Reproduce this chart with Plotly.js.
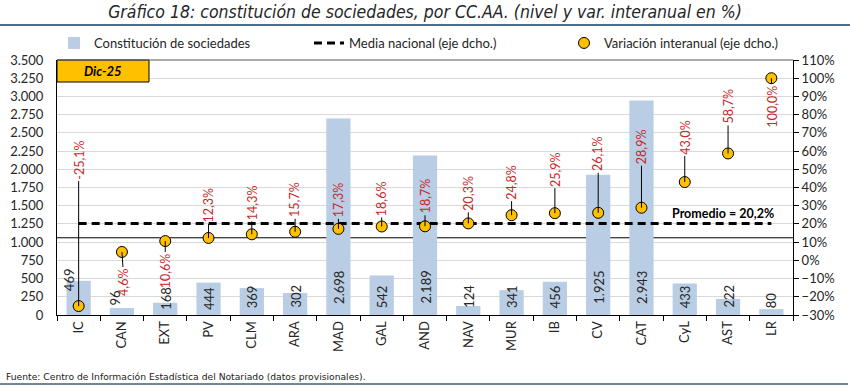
<!DOCTYPE html>
<html>
<head>
<meta charset="utf-8">
<script src="https://cdn.plot.ly/plotly-3.0.1.min.js"></script>
<style>
  html, body { margin: 0; padding: 0; background: #fff; }
  #chart { width: 850px; height: 388px; }
</style>
</head>
<body>
<div id="chart"></div>
<script>
// ---- Data ----
const categorias = ['IC','CAN','EXT','PV','CLM','ARA','MAD','GAL','AND','NAV','MUR','IB','CV','CAT','CyL','AST','LR'];
const sociedades = [469, 96, 168, 444, 369, 302, 2698, 542, 2189, 124, 341, 456, 1925, 2943, 433, 222, 80];
const variacion = [-25.1, 4.6, 10.6, 12.3, 14.3, 15.7, 17.3, 18.6, 18.7, 20.3, 24.8, 25.9, 26.1, 28.9, 43.0, 58.7, 100.0];
const mediaNacional = 20.2;
const fechaEtiqueta = 'Dic-25';
const titulo = 'Gráfico 18: constitución de sociedades, por CC.AA. (nivel y var. interanual en %)';
const fuente = 'Fuente: Centro de Información Estadística del Notariado (datos provisionales).';
const nombres = ['Constitución de sociedades', 'Media nacional (eje dcho.)', 'Variación interanual (eje dcho.)'];

// ---- Label placement (styling, pixels) ----
const varLabelOffsetY = [-146, 30, 30, -33, -32, -32, -29, -28, -30, -30, -33, -44, -59, -61, -45, -47, 28];
const varLabelOffsetX = [0, 2, 0, 0, 0, 0, 0, 0, 0, 0, 0, 0, 0, 0, 0, 0, 1];
const barLabelShiftX = [-10, -7, 0, 0, 0, 0, 0, 0, 0, 0, 0, 0, 0, 0, 0, 0, 0];
const barLabelShiftY = [22, 8, 3, 3, 5, 5, 9, 5, 9, 5, 5, 5, 9, 9, 5, 5, 5];

const FONT = 'Lato, "Open Sans", sans-serif';
const RED = '#C62828';
const W = 850, H = 388;
const PL = 57, PR = 793, PT = 60, PB = 315; // plot area edges in px
function fx(px) { return px / W; }        // px -> paper x (paper = whole figure)
function fy(py) { return 1 - py / H; }    // px -> paper y

function fmtMiles(v) {
  const s = String(Math.round(v));
  return s.replace(/\B(?=(\d{3})+(?!\d))/g, '.');
}
function fmtPct(v) {
  return v.toFixed(1).replace('.', ',') + '%';
}

const traces = [
  {
    type: 'bar', name: nombres[0], x: categorias, y: sociedades,
    marker: { color: '#B9CDE5' }, yaxis: 'y', hoverinfo: 'skip'
  },
  {
    type: 'scatter', mode: 'lines', name: nombres[1],
    x: [categorias[0], categorias[categorias.length - 1]], y: [mediaNacional, mediaNacional],
    line: { color: '#000', width: 3, dash: '8px,5px' }, yaxis: 'y2', hoverinfo: 'skip'
  },
  {
    type: 'scatter', mode: 'markers', name: nombres[2], x: categorias, y: variacion,
    marker: { color: '#FFC000', size: 11, line: { color: '#000', width: 1 } },
    yaxis: 'y2', hoverinfo: 'skip', cliponaxis: false
  }
];

const annotations = [];
categorias.forEach((c, i) => {
  annotations.push({
    x: c, y: 0, xref: 'x', yref: 'y', text: fmtMiles(sociedades[i]),
    textangle: -90, showarrow: false, xanchor: 'center', yanchor: 'bottom',
    xshift: barLabelShiftX[i], yshift: barLabelShiftY[i],
    font: { family: FONT, size: 13, color: '#262626' }
  });
  annotations.push({
    x: c, y: variacion[i], xref: 'x', yref: 'y2', text: fmtPct(variacion[i]),
    textangle: -90, showarrow: true, arrowhead: 0, arrowwidth: 1, arrowcolor: '#000',
    ax: varLabelOffsetX[i], ay: varLabelOffsetY[i], axref: 'pixel', ayref: 'pixel',
    font: { family: FONT, size: 12.5, color: RED }
  });
});
annotations.push({
  x: categorias[categorias.length - 1], y: mediaNacional, xref: 'x', yref: 'y2',
  text: '<b>Promedio = ' + fmtPct(mediaNacional) + '</b>', showarrow: false,
  xanchor: 'right', yanchor: 'bottom', xshift: 5, yshift: 1,
  font: { family: FONT, size: 12.5, color: '#000' }
});
annotations.push({
  x: fx(103), y: fy(71), xref: 'paper', yref: 'paper', text: '<b><i>' + fechaEtiqueta + '</i></b>',
  showarrow: false, xanchor: 'center', yanchor: 'middle',
  font: { family: FONT, size: 13, color: '#000' }
});
annotations.push({
  x: fx(4), y: fy(376), xref: 'paper', yref: 'paper', text: fuente,
  showarrow: false, xanchor: 'left', yanchor: 'middle',
  font: { family: '"DejaVu Sans", Verdana, sans-serif', size: 9.2, color: '#222' }
});

const shapes = [
  // Dic-25 box
  { type: 'rect', xref: 'paper', yref: 'paper', x0: fx(PL), x1: fx(149), y0: fy(82), y1: fy(PT),
    fillcolor: '#FFC000', line: { color: '#000', width: 1 } },
  // top frame
  { type: 'line', xref: 'paper', yref: 'paper', x0: fx(PL), x1: fx(PR), y0: fy(PT), y1: fy(PT),
    line: { color: '#595959', width: 1.2 } },
  // reference line
  { type: 'line', xref: 'paper', yref: 'y2', x0: fx(PL), x1: fx(PR), y0: 12.4, y1: 12.4,
    line: { color: '#000', width: 1 }, layer: 'below' },
  // title underline
  { type: 'line', xref: 'paper', yref: 'paper', x0: 0, x1: 1, y0: fy(25), y1: fy(25),
    line: { color: '#4F6E8C', width: 2 } },
  // footer line
  { type: 'line', xref: 'paper', yref: 'paper', x0: 0, x1: fx(848), y0: fy(384), y1: fy(384),
    line: { color: '#6F8797', width: 2 } }
];

const layout = {
  width: W, height: H,
  margin: { l: 0, r: 0, t: 0, b: 0, pad: 0, autoexpand: false },
  paper_bgcolor: '#fff', plot_bgcolor: '#fff',
  separators: ',.',
  font: { family: FONT, size: 13, color: '#262626' },
  title: {
    text: titulo, x: 0.5, xanchor: 'center', xref: 'container', y: 1 - 12 / H, yref: 'container', yanchor: 'middle',
    font: { family: '"Liberation Sans Narrow", "Arial Narrow", "DejaVu Sans Condensed", sans-serif', size: 17.5, color: '#262626', style: 'italic' }
  },
  bargap: 0.44,
  showlegend: true,
  legend: {
    orientation: 'h', x: fx(54), xanchor: 'left', y: fy(43), yanchor: 'middle',
    entrywidth: 210, entrywidthmode: 'pixels',
    font: { family: FONT, size: 13, color: '#262626' }, bgcolor: 'rgba(0,0,0,0)', borderwidth: 0,
    traceorder: 'normal'
  },
  xaxis: {
    type: 'category', domain: [fx(PL), fx(PR)], range: [-0.5, categorias.length - 0.5], autorange: false,
    showline: true, linecolor: '#000', linewidth: 1,
    ticks: 'outside', tickson: 'boundaries', ticklen: 5, tickcolor: '#000',
    tickangle: -90, tickfont: { family: FONT, size: 13, color: '#262626' },
    showgrid: false, fixedrange: true, automargin: false
  },
  yaxis: {
    domain: [fy(PB), fy(PT)], range: [0, 3500], dtick: 250, tick0: 0, tickformat: ',d',
    showline: true, linecolor: '#000', linewidth: 1,
    showgrid: true, gridcolor: '#D9D9D9', gridwidth: 1, zeroline: false,
    ticks: '', ticklabelstandoff: 10,
    tickfont: { family: FONT, size: 13, color: '#262626' }, fixedrange: true, automargin: false
  },
  yaxis2: {
    overlaying: 'y', side: 'right', range: [-30, 110], dtick: 10, tick0: 0, ticksuffix: '%',
    showline: true, linecolor: '#000', linewidth: 1, showgrid: false, zeroline: false,
    ticks: 'outside', ticklen: 5, tickcolor: '#000',
    tickfont: { family: FONT, size: 13, color: '#262626' }, fixedrange: true, automargin: false
  },
  annotations: annotations,
  shapes: shapes
};

Plotly.newPlot('chart', traces, layout, { staticPlot: true, displayModeBar: false });
</script>
</body>
</html>
